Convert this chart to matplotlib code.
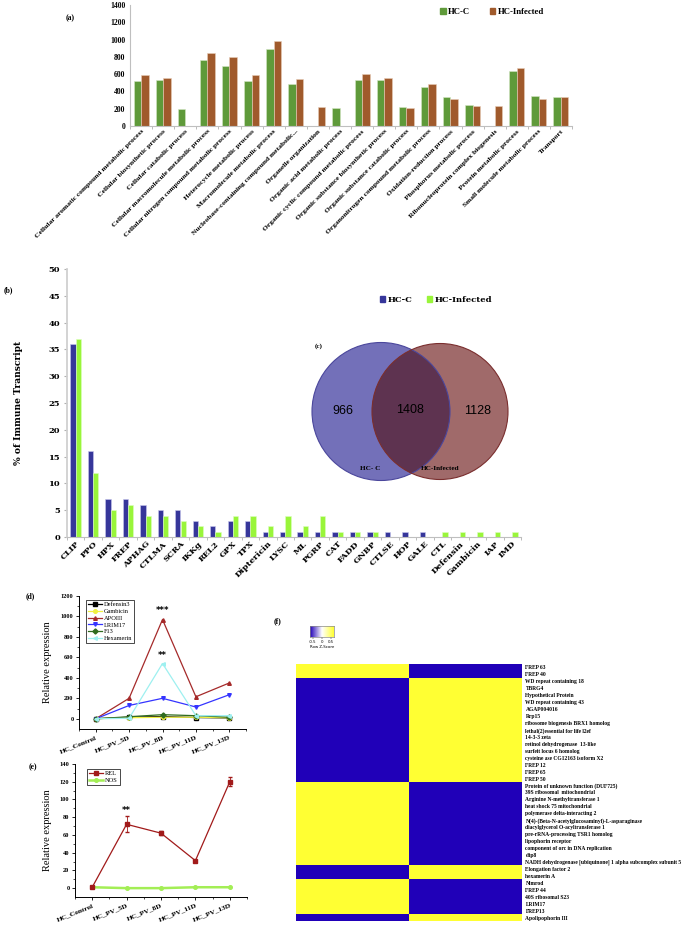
import numpy as np
import matplotlib
matplotlib.use("Agg")
import matplotlib.pyplot as plt
from matplotlib.colors import LinearSegmentedColormap
from matplotlib.patches import Circle, Rectangle

W, H = 688, 927

# (a) GO terms
GO_TERMS = [
    "Cellular aromatic compound metabolic process",
    "Cellular biosynthetic process",
    "Cellular catabolic process",
    "Cellular macromolecule metabolic process",
    "Cellular nitrogen compound metabolic process",
    "Heterocycle metabolic process",
    "Macromolecule metabolic process",
    "Nucleobase-containing compound metabolic...",
    "Organelle organization",
    "Organic acid metabolic process",
    "Organic cyclic compound metabolic process",
    "Organic substance biosynthetic process",
    "Organic substance catabolic process",
    "Organonitrogen compound metabolic process",
    "Oxidation-reduction process",
    "Phosphorus metabolic process",
    "Ribonucleoprotein complex biogenesis",
    "Protein metabolic process",
    "Small molecule metabolic process",
    "Transport",
]
GO_HCC = [523, 537, 198, 761, 692, 523, 896, 485, 0, 204, 538, 538, 215, 454, 331, 246, 0, 635, 342, 335]
GO_INF = [588, 554, 0, 848, 800, 585, 986, 546, 215, 0, 600, 561, 208, 481, 312, 235, 227, 669, 312, 335]

# (b) immune transcripts
IMM_GENES = ["CLIP", "PPO", "HPX", "FREP", "APHAG", "CTLMA", "SCRA", "IKKg", "REL2", "GPX",
             "TPX", "Diptericin", "LYSC", "ML", "PGRP", "CAT", "FADD", "GNBP", "CTLSE", "HOP",
             "GALE", "CTL", "Defensin", "Gambicin", "IAP", "IMD"]
IMM_HCC = [36, 16, 7, 7, 6, 5, 5, 3, 2, 3, 3, 1, 1, 1, 1, 1, 1, 1, 1, 1, 1, 0, 0, 0, 0, 0]
IMM_INF = [37, 12, 5, 6, 4, 4, 3, 2, 1, 4, 4, 2, 4, 2, 4, 1, 1, 1, 0, 0, 0, 1, 1, 1, 1, 1]

# (c) venn counts
VENN_ONLY_C = 966
VENN_BOTH = 1408
VENN_ONLY_INF = 1128

# (d) qPCR
TIMEPOINTS = ["HC_Control", "HC_PV_5D", "HC_PV_8D", "HC_PV_11D", "HC_PV_13D"]
DEFENSIN3 = [0, 15, 22, 12, 8]
GAMBICIN = [0, 10, 15, 15, 10]
APOIII = [0, 200, 970, 215, 350]
LRIM17 = [0, 130, 200, 115, 235]
F13 = [0, 20, 40, 30, 15]
HEXAMERIN = [0, 5, 540, 30, 30]

# (e)
REL = [1, 72, 62, 31, 120]
REL_ERR = [1, 9, 2, 1, 5]
NOS = [1, 0, 0, 1, 1]

# (f) heatmap
HEAT_GENES = [
    "FREP 63", "FREP 40", "WD repeat containing 18", "TBRG4", "Hypothetical Protein",
    "WD repeat containing 43", "AGAP004016", "Rrp15", "ribosome biogenesis BRX1 homolog",
    "lethal(2)essential for life l2ef", "14-3-3 zeta", "retinol dehydrogenase  13-like",
    "surfeit locus 6 homolog", "cysteine ase CG12163 isoform X2", "FREP 12", "FREP 65",
    "FREP 50", "Protein of unknown function (DUF725)", "39S ribosomal  mitochondrial",
    "Arginine N-methyltransferase 1", "heat shock 75 mitochondrial",
    "polymerase delta-interacting 2", "N(4)-(Beta-N-acetylglucosaminyl)-L-asparaginase",
    "diacylglycerol O-acyltransferase 1", "pre-rRNA-processing TSR1 homolog",
    "lipophorin receptor", "component of orc in DNA replication", "clip8",
    "NADH dehydrogenase [ubiquinone] 1 alpha subcomplex subunit 5", "Elongation factor 2",
    "hexamerin A", "Nimrod", "FREP 44", "40S ribosomal S23", "LRIM17", "FREP13",
    "Apolipophorin III",
]
HEAT_HCC = [0.71, 0.71, -0.71, -0.71, -0.71, -0.71, -0.71, -0.71, -0.71, -0.71,
            -0.71, -0.71, -0.71, -0.71, -0.71, -0.71, -0.71, 0.71, 0.71, 0.71,
            0.71, 0.71, 0.71, 0.71, 0.71, 0.71, 0.71, 0.71, 0.71, -0.71,
            -0.71, 0.71, 0.71, 0.71, 0.71, 0.71, -0.71]
HEAT_INF = [-z for z in HEAT_HCC]

GREEN = "#5f9a3a"
BROWN = "#a05a2c"
NAVY = "#36369a"
LIME = "#99f53a"
TIMES = "Liberation Serif"
BOOK = "DejaVu Serif"


def px_axes(fig, left, top, right, bottom, **kw):
    return fig.add_axes([left / W, 1 - bottom / H, (right - left) / W, (bottom - top) / H], **kw)


def fig_text(fig, x, y, s, **kw):
    fig.text(x / W, 1 - y / H, s, **kw)


def excel_bars(ax, labels, v1, v2, c1, c2, e1, e2, bw, lab_font, lab_size, rot):
    n = len(labels)
    x = np.arange(n)
    ax.bar(x - bw / 2, v1, bw, color=c1, edgecolor=e1, lw=0.4)
    ax.bar(x + bw / 2, v2, bw, color=c2, edgecolor=e2, lw=0.4)
    ax.set_xlim(-0.5, n - 0.5)
    ax.set_xticks(np.arange(-0.5, n, 1))
    ax.set_xticklabels([])
    ax.set_xticks(x, minor=True)
    ax.set_xticklabels(labels, minor=True, rotation=rot, ha="right", rotation_mode="anchor",
                       fontsize=lab_size, fontweight="bold", family=lab_font)
    ax.tick_params(axis="x", which="major", length=2.5, color="#b0b0b0", width=0.6)
    ax.tick_params(axis="x", which="minor", length=0, pad=2)
    ax.tick_params(axis="y", length=0)
    for s in ["top", "right"]:
        ax.spines[s].set_visible(False)
    for s in ["left", "bottom"]:
        ax.spines[s].set_color("#bfbfbf")


def origin_axes(ax, ymax, ystep):
    ax.set_xlim(-0.5, 4.5)
    ax.set_xticks(range(len(TIMEPOINTS)))
    ax.set_xticks(np.arange(-0.5, 4.6, 0.5), minor=True)
    ax.set_xticklabels(TIMEPOINTS, rotation=22, ha="right", rotation_mode="anchor",
                       fontsize=5.3, fontweight="bold", family=TIMES)
    ax.set_yticks(np.arange(0, ymax + 1, ystep))
    ax.set_yticks(np.arange(0, ymax + 1, ystep / 2), minor=True)
    for lab in ax.get_yticklabels():
        lab.set_fontsize(4.6)
        lab.set_fontweight("bold")
        lab.set_family(TIMES)
    ax.tick_params(which="major", length=2.5, width=0.6, pad=1.5)
    ax.tick_params(which="minor", length=1.4, width=0.5)
    for s in ["top", "right"]:
        ax.spines[s].set_visible(False)
    for s in ["left", "bottom"]:
        ax.spines[s].set_linewidth(0.7)
    ax.set_ylabel("Relative expression", fontsize=7.5, family=TIMES)


def small_legend(ax, handles, labels, x0, y0):
    leg = ax.legend(handles, labels, loc="upper left", bbox_to_anchor=(x0, y0),
                    frameon=True, fancybox=False, edgecolor="black", framealpha=1,
                    prop=dict(family=TIMES, size=4.6), handlelength=2.2, labelspacing=0.2,
                    borderpad=0.3, handletextpad=0.3, borderaxespad=0)
    leg.get_frame().set_linewidth(0.5)


def main():
    fig = plt.figure(figsize=(W / 100, H / 100), dpi=100)

    # ---- (a)
    ax = px_axes(fig, 130, 5, 572, 126)
    excel_bars(ax, GO_TERMS, GO_HCC, GO_INF, GREEN, BROWN, "#d4e6c4", "#e8cdb8",
               0.34, TIMES, 5.4, 45)
    ax.set_ylim(0, 1400)
    ax.set_yticks(range(0, 1401, 200))
    for lab in ax.get_yticklabels():
        lab.set_fontsize(5.6)
        lab.set_fontweight("bold")
        lab.set_family(TIMES)
    handles = [Rectangle((0, 0), 1, 1, color=GREEN), Rectangle((0, 0), 1, 1, color=BROWN)]
    fig.legend(handles, ["HC-C", "HC-Infected"], loc="center", bbox_to_anchor=(492 / W, 1 - 12 / H),
               ncol=2, frameon=False, handlelength=0.6, handleheight=0.6, handletextpad=0.3,
               columnspacing=2.2, prop=dict(family=TIMES, weight="bold", size=6.3))
    fig_text(fig, 70, 18, "(a)", fontsize=5.5, fontweight="bold", family=TIMES, ha="center", va="center")

    # ---- (b)
    ax = px_axes(fig, 67, 269, 521, 537)
    excel_bars(ax, IMM_GENES, IMM_HCC, IMM_INF, NAVY, LIME, "#c8c8ee", "#ddffc0",
               0.3, BOOK, 6.0, 45)
    ax.set_ylim(0, 50)
    ax.set_yticks(range(0, 51, 5))
    for lab in ax.get_yticklabels():
        lab.set_fontsize(6.0)
        lab.set_fontweight("bold")
        lab.set_family(BOOK)
    ax.tick_params(axis="y", length=2, color="#b0b0b0", pad=3)
    ax.spines["left"].set_linewidth(1.3)
    ax.spines["left"].set_color("#d0d0d0")
    ax.set_ylabel("% of Immune Transcript", fontsize=6.6, fontweight="bold", family=BOOK)
    ax.yaxis.set_label_coords((23 - 67) / 454, 0.5)
    handles = [Rectangle((0, 0), 1, 1, color=NAVY), Rectangle((0, 0), 1, 1, color=LIME)]
    fig.legend(handles, ["HC-C", "HC-Infected"], loc="center", bbox_to_anchor=(436 / W, 1 - 300 / H),
               ncol=2, frameon=False, handlelength=0.6, handleheight=0.6, handletextpad=0.3,
               columnspacing=1.8, prop=dict(family=BOOK, weight="bold", size=6.0))
    fig_text(fig, 8, 290, "(b)", fontsize=5.5, fontweight="bold", family=TIMES, ha="center", va="center")

    # ---- (c) venn
    vx = px_axes(fig, 300, 330, 520, 495)
    vx.set_xlim(300, 520)
    vx.set_ylim(495, 330)
    vx.axis("off")
    vx.patch.set_alpha(0)
    left = Circle((381, 411.5), 69, facecolor="#7370b9", edgecolor="none")
    right = Circle((440, 411.5), 68, facecolor="#a06a6a", edgecolor="none")
    vx.add_patch(left)
    vx.add_patch(right)
    lens = Circle((440, 411.5), 68, facecolor="#5e3350", edgecolor="none")
    vx.add_patch(lens)
    lens.set_clip_path(left)
    vx.add_patch(Circle((381, 411.5), 69, fill=False, edgecolor="#4b479c", lw=0.8))
    vx.add_patch(Circle((440, 411.5), 68, fill=False, edgecolor="#7a2e2e", lw=0.8))
    vx.text(343, 411, str(VENN_ONLY_C), ha="center", va="center", fontsize=9, family="Liberation Sans")
    vx.text(410, 410, str(VENN_BOTH), ha="center", va="center", fontsize=9, family="Liberation Sans")
    vx.text(478, 411, str(VENN_ONLY_INF), ha="center", va="center", fontsize=9, family="Liberation Sans")
    vx.text(370, 468, "HC- C", ha="center", va="center", fontsize=5.2, fontweight="bold", family=TIMES)
    vx.text(440, 468, "HC-Infected", ha="center", va="center", fontsize=5.2, fontweight="bold", family=TIMES)
    fig_text(fig, 319, 346, "(c)", fontsize=5, fontweight="bold", family=TIMES, ha="center", va="center")

    # ---- (d)
    ax = px_axes(fig, 79, 596, 246, 729)
    xs = np.arange(len(TIMEPOINTS))
    series = [
        ("Defensin3", DEFENSIN3, "#000000", "s"),
        ("Gambicin", GAMBICIN, "#f0f040", "o"),
        ("APOIII", APOIII, "#a52a2a", "^"),
        ("LRIM17", LRIM17, "#3434ff", "v"),
        ("F13", F13, "#2f6b1f", "D"),
        ("Hexamerin", HEXAMERIN, "#9ef0f0", "<"),
    ]
    lines = []
    for name, vals, col, mk in series:
        lines += ax.plot(xs, vals, color=col, marker=mk, ms=2.6, lw=0.9)
    ax.set_ylim(-100, 1200)
    origin_axes(ax, 1200, 200)
    ax.yaxis.set_label_coords((52 - 79) / 167, 0.5)
    ax.text(2, 1010, "***", ha="center", va="bottom", fontsize=6, fontweight="bold")
    ax.text(2, 570, "**", ha="center", va="bottom", fontsize=6, fontweight="bold")
    small_legend(ax, lines, [s[0] for s in series], (86 - 79) / 167, 1 - (600 - 596) / 133)
    fig_text(fig, 30, 596, "(d)", fontsize=5.5, fontweight="bold", family=TIMES, ha="center", va="center")

    # ---- (e)
    ax = px_axes(fig, 75, 764, 247, 897)
    rel = ax.errorbar(xs, REL, yerr=REL_ERR, color="#a11a1a", marker="s", ms=2.6, lw=0.9,
                      capsize=1.5, elinewidth=0.6)
    nos, = ax.plot(xs, NOS, color="#a3ee55", marker="o", ms=2.6, lw=1.8)
    ax.set_ylim(-10, 140)
    origin_axes(ax, 140, 20)
    ax.yaxis.set_label_coords((52 - 75) / 172, 0.5)
    ax.text(1, 83, "**", ha="center", va="bottom", fontsize=6, fontweight="bold")
    small_legend(ax, [rel[0], nos], ["REL", "NOS"], (87 - 75) / 172, 1 - (769 - 764) / 133)
    fig_text(fig, 33, 767, "(e)", fontsize=5.5, fontweight="bold", family=TIMES, ha="center", va="center")

    # ---- (f)
    cmap = LinearSegmentedColormap.from_list("bwy", ["#2000b8", "#ffffff", "#ffff33"])
    ax = px_axes(fig, 296, 664, 522, 921)
    data = np.column_stack([HEAT_HCC, HEAT_INF])
    ax.imshow(data, aspect="auto", cmap=cmap, vmin=-0.65, vmax=0.65, interpolation="nearest")
    ax.set_xticks([])
    ax.set_yticks(range(len(HEAT_GENES)))
    ax.set_yticklabels(HEAT_GENES, fontsize=4.0, fontweight="bold", family=TIMES)
    ax.yaxis.tick_right()
    ax.tick_params(axis="y", length=0, pad=2.5)
    for s in ax.spines.values():
        s.set_visible(False)

    kx = px_axes(fig, 310, 626, 334, 637)
    kx.imshow(np.linspace(-0.65, 0.65, 100)[None, :], aspect="auto", cmap=cmap,
              vmin=-0.65, vmax=0.65, extent=(-0.65, 0.65, 0, 1))
    kx.set_yticks([])
    kx.set_xticks([-0.5, 0, 0.5])
    kx.set_xticklabels(["-0.5", "0", "0.5"], fontsize=2.8)
    kx.tick_params(axis="x", length=1.2, width=0.3, pad=0.8)
    kx.set_xlabel("Row Z-Score", fontsize=2.8, labelpad=0.8)
    for s in kx.spines.values():
        s.set_color("#888888")
        s.set_linewidth(0.5)
    fig_text(fig, 277, 621, "(f)", fontsize=5.5, fontweight="bold", family=TIMES, ha="center", va="center")

    fig.savefig("out.png", dpi=100, facecolor="white")


if __name__ == "__main__":
    main()
